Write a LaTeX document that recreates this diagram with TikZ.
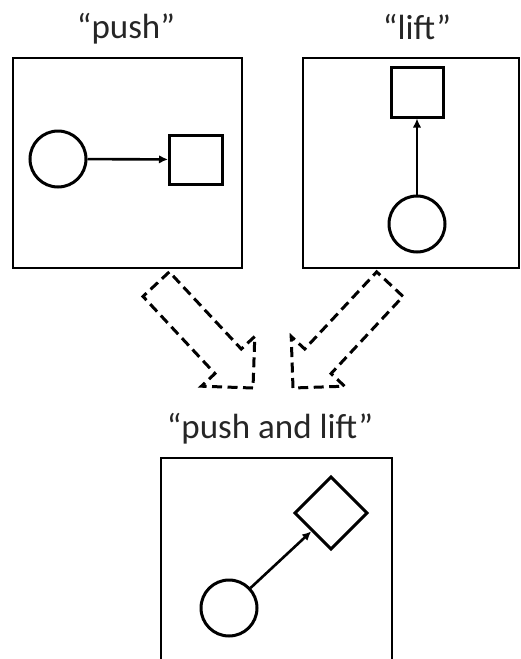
\documentclass[tikz,border=0pt]{standalone}
\usepackage{fontspec}
\setmainfont{Carlito}
\usetikzlibrary{arrows.meta}
\begin{document}
\begin{tikzpicture}[x=1pt,y=-1pt,
 frame/.style={draw, line width=1.6pt, inner sep=0pt},
 ball/.style={draw, circle, line width=3pt, minimum size=56pt, inner sep=0pt},
 block/.style={draw, rectangle, line width=3pt, minimum width=53pt, minimum height=49pt, inner sep=0pt},
 conn/.style={line width=2.6pt, -{Latex[length=9pt,width=8.5pt]}},
 title/.style={font=\fontsize{35}{40}\selectfont, text=black!85, anchor=base, inner sep=0pt},
 bigarrow/.style={draw, line width=3pt, dash pattern=on 10pt off 5.5pt, line join=miter}]
\useasboundingbox (0,0) rectangle (520,659);
\clip (0,0) rectangle (520,659);
% titles
\node[title] (pushtitle) at (126,38) {“push”};
\node[title] (lifttitle) at (417,39) {“lift”};
\node[title] (pnltitle) at (270,438) {“push and lift”};
% frames
\node[frame, minimum width=229pt, minimum height=210pt] (pushframe) at (127.5,163) {};
\node[frame, minimum width=216pt, minimum height=210pt] (liftframe) at (411,163) {};
\node[frame, minimum width=231pt, minimum height=212pt] (pnlframe) at (276.5,564) {};
% push
\node[ball] (pushball) at (58,159) {};
\node[block] (pushblock) at (196,159.5) {};
\draw[conn] (pushball) -- (pushblock);
% lift
\node[block, minimum width=52pt, minimum height=50pt] (liftblock) at (417,92) {};
\node[ball] (liftball) at (417,224) {};
\draw[conn] (liftball) -- (liftblock);
% push and lift
\node[block, minimum width=51pt, minimum height=51pt, rotate=45] (pnlblock) at (331,513) {};
\node[ball] (pnlball) at (229,608) {};
\draw[conn] (pnlball) -- (pnlblock);
% dashed block arrows
\begin{scope}[shift={(253,388)}, rotate=-47]
\draw[bigarrow] (0,0) -- (-36.5,36.5) -- (-36.5,18) -- (-142,18) -- (-142,-18) -- (-36.5,-18) -- (-36.5,-36.5) -- cycle;
\end{scope}
\begin{scope}[shift={(293,388)}, rotate=-133]
\draw[bigarrow] (0,0) -- (-36.5,36.5) -- (-36.5,18) -- (-142,18) -- (-142,-18) -- (-36.5,-18) -- (-36.5,-36.5) -- cycle;
\end{scope}
\end{tikzpicture}
\end{document}
